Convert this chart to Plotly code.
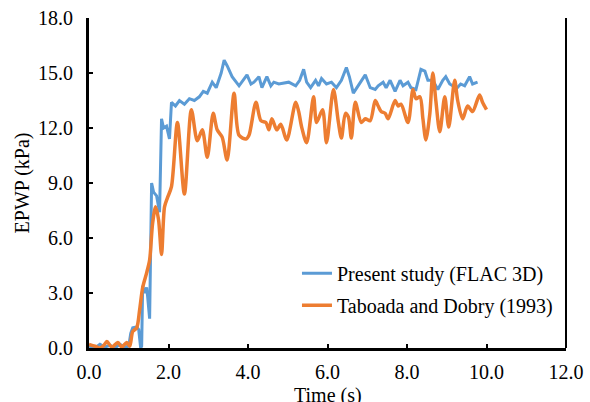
import plotly.graph_objects as go

# Present study (FLAC 3D)
t_present = [0.0, 0.15, 0.275, 0.4, 0.525, 0.65, 0.775, 0.9, 1.0, 1.05, 1.1, 1.2, 1.25, 1.3, 1.325,
             1.35, 1.4, 1.45, 1.475, 1.525, 1.575, 1.625, 1.7, 1.775, 1.825, 1.875, 1.95, 2.025, 2.075,
             2.175, 2.275, 2.4, 2.525, 2.65, 2.775, 2.875, 2.975, 3.1, 3.2, 3.325, 3.4, 3.475, 3.6,
             3.675, 3.775, 3.975, 4.075, 4.15, 4.275, 4.35, 4.475, 4.575, 4.65, 4.775, 4.95, 5.025,
             5.2, 5.3, 5.4, 5.475, 5.575, 5.7, 5.775, 5.85, 5.975, 6.1, 6.225, 6.35, 6.475, 6.55,
             6.65, 6.775, 6.95, 7.075, 7.2, 7.275, 7.4, 7.475, 7.575, 7.7, 7.825, 7.9, 8.025, 8.1,
             8.225, 8.35, 8.45, 8.525, 8.65, 8.775, 8.9, 8.975, 9.075, 9.15, 9.225, 9.35, 9.45,
             9.575, 9.65, 9.775]
p_present = [0.1, 0.0, 0.2, 0.05, 0.15, 0.0, 0.2, 0.05, 0.1, 0.8, 1.1, 1.15, 1.0, 0.0, 0.1,
             3.4, 3.0, 3.3, 2.8, 1.6, 9.0, 8.5, 8.3, 7.4, 12.5, 12.0, 12.1, 11.4, 13.4,
             13.2, 13.5, 13.3, 13.6, 13.5, 13.7, 14.0, 13.9, 14.5, 14.2, 15.0, 15.7, 15.4, 14.8,
             14.6, 14.3, 14.9, 14.4, 14.5, 14.8, 14.2, 14.8, 14.3, 14.5, 14.4, 14.45, 14.5,
             14.3, 14.6, 15.2, 14.5, 14.2, 14.6, 14.3, 14.7, 14.4, 14.5, 14.2, 14.6, 15.3, 14.8,
             13.9, 14.3, 14.9, 14.2, 14.1, 14.3, 14.5, 14.2, 14.6, 14.0, 14.6, 14.3, 14.5, 14.2,
             14.1, 15.2, 15.1, 14.6, 14.6, 14.1, 14.6, 14.8, 14.4, 14.3, 14.1, 14.4, 14.3,
             14.8, 14.4, 14.5]

# Taboada and Dobry (1993)
t_taboada = [0.0, 0.15, 0.275, 0.375, 0.45, 0.575, 0.725, 0.825, 0.95, 1.025, 1.1, 1.2, 1.275,
             1.35, 1.45, 1.525, 1.6, 1.675, 1.75, 1.825, 1.9, 1.975, 2.075, 2.225, 2.4, 2.575,
             2.725, 2.85, 2.975, 3.125, 3.225, 3.35, 3.475, 3.65, 3.775, 3.95, 4.025, 4.2, 4.325,
             4.45, 4.525, 4.6, 4.725, 4.825, 4.975, 5.2, 5.275, 5.35, 5.475, 5.65, 5.725, 5.875,
             5.975, 6.15, 6.275, 6.35, 6.45, 6.525, 6.6, 6.7, 6.85, 6.95, 7.075, 7.2, 7.275, 7.35,
             7.45, 7.525, 7.7, 7.775, 7.85, 8.025, 8.15, 8.225, 8.325, 8.4, 8.475, 8.575, 8.65,
             8.725, 8.825, 8.95, 9.05, 9.2, 9.275, 9.4, 9.525, 9.65, 9.825, 9.9, 10.0]
p_taboada = [0.2, 0.1, 0.0, 0.15, 0.35, 0.05, 0.3, 0.05, 0.3, 0.1, 0.9, 1.1, 2.1,
             3.3, 4.1, 4.8, 6.8, 7.7, 7.0, 5.1, 7.7, 8.2, 8.8, 12.3, 8.4, 13.0,
             11.3, 11.9, 10.4, 12.8, 11.9, 11.5, 10.25, 13.9, 11.6, 11.4, 11.6, 13.4, 12.4,
             12.3, 11.9, 12.5, 11.9, 12.2, 11.35, 13.4, 12.9, 12.05, 11.2, 13.7, 12.3, 13.0,
             11.2, 14.1, 12.3, 11.45, 12.8, 12.6, 11.45, 13.4, 12.3, 12.5, 12.4, 13.5, 13.2, 12.9,
             12.8, 12.5, 13.5, 13.2, 13.3, 12.3, 14.1, 13.6, 13.7, 12.5, 11.35, 12.8, 15.0,
             13.5, 11.8, 13.7, 12.05, 14.6, 13.5, 12.5, 13.2, 12.9, 13.8, 13.4, 13.0]

x_ticks = [0, 2, 4, 6, 8, 10, 12]
y_ticks = [0, 3, 6, 9, 12, 15, 18]

FONT = "'Liberation Serif', 'Times New Roman', 'DejaVu Serif', serif"

fig = go.Figure()
fig.add_trace(go.Scatter(x=t_present, y=p_present, mode="lines",
                         name="Present study (FLAC 3D)", legendgroup="a",
                         line=dict(color="#5B9BD5", width=3)))
fig.add_trace(go.Scatter(x=t_taboada, y=p_taboada, mode="lines",
                         name="Taboada and Dobry (1993)", legendgroup="b",
                         line=dict(color="#ED7D31", width=3.5, shape="spline", smoothing=0.8)))

fig.update_layout(
    width=590, height=402,
    margin=dict(l=89, r=24, t=18, b=54),
    paper_bgcolor="white", plot_bgcolor="white",
    font=dict(family=FONT, size=20, color="black"),
    showlegend=True,
    legend=dict(x=0.436, xanchor="left", y=0.178, yanchor="middle",
                bgcolor="rgba(0,0,0,0)", tracegroupgap=3, traceorder="grouped",
                font=dict(family=FONT, size=20, color="black")),
    xaxis=dict(range=[0, 12], tickvals=x_ticks, ticktext=[f"{v:.1f}" for v in x_ticks],
               automargin=False,
               showgrid=False, zeroline=False, showline=True, linecolor="black", linewidth=3,
               ticks="inside", ticklen=4, tickwidth=2, tickcolor="black",
               ticklabelstandoff=4, tickfont=dict(family=FONT, size=20)),
    yaxis=dict(range=[0, 18], tickvals=y_ticks, ticktext=[f"{v:.1f}" for v in y_ticks],
               automargin=False,
               showgrid=False, zeroline=False, showline=True, linecolor="black", linewidth=3,
               ticks="inside", ticklen=4, tickwidth=2, tickcolor="black",
               ticklabelstandoff=9, tickfont=dict(family=FONT, size=20),
               title=dict(text="EPWP (kPa)", standoff=4, font=dict(family=FONT, size=20))),
    annotations=[dict(text="Time (s)", xref="paper", yref="paper", x=0.5, y=-0.145,
                      xanchor="center", yanchor="middle", showarrow=False,
                      font=dict(family=FONT, size=20, color="black"))],
    shapes=[dict(type="line", xref="paper", yref="paper", x0=1, x1=1, y0=0, y1=1,
                 line=dict(color="black", width=2))],
)

fig.write_html("out.html", config={"displayModeBar": False},
               post_script="document.body.style.margin='0';document.body.style.padding='0';")
